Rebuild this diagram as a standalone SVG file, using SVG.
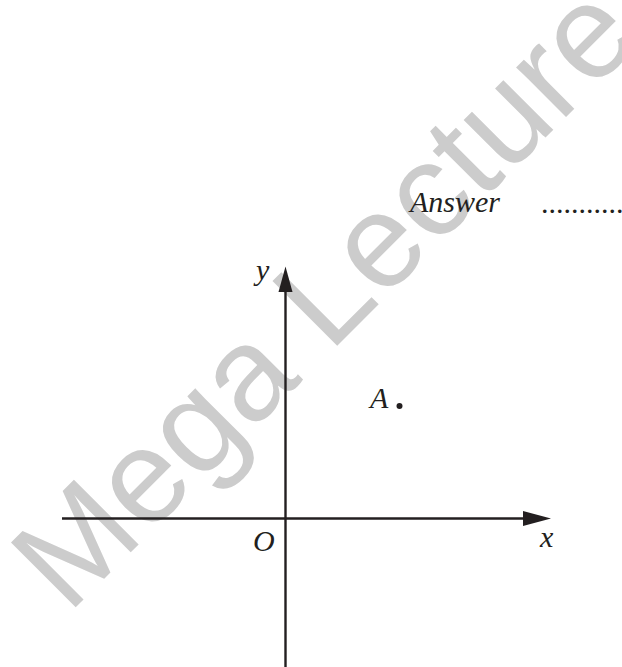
<svg xmlns="http://www.w3.org/2000/svg" width="622" height="667" viewBox="0 0 622 667">
  <style>
    .lbl { font-family: "Liberation Serif", "Times New Roman", serif; font-style: italic; font-size: 30px; fill: #231f20; }
    .axis { stroke: #231f20; stroke-width: 2.4; fill: none; }
    .head { fill: #231f20; }
    .wm { font-family: "Liberation Sans", Arial, sans-serif; font-size: 133px; fill: #cccccc; }
  </style>
  <rect width="622" height="667" fill="#ffffff"/>
  <g id="watermark">
    <text class="wm" transform="translate(68,615) rotate(-45)">Mega Lecture</text>
  </g>
  <g id="answer">
    <text class="lbl" x="410" y="212">Answer</text>
    <text class="lbl" x="541" y="213" style="font-style:normal">...........</text>
  </g>
  <g id="connectors">
    <line class="axis" x1="285.5" y1="290" x2="285.5" y2="667"/>
    <polygon class="head" points="285.5,266.5 278.5,292 292.5,292"/>
    <line class="axis" x1="62" y1="518.5" x2="525" y2="518.5"/>
    <polygon class="head" points="551,518.5 523,511 523,526"/>
  </g>
  <g id="label-y"><text class="lbl" x="256" y="280">y</text></g>
  <g id="label-x"><text class="lbl" x="540" y="547">x</text></g>
  <g id="label-O"><text class="lbl" x="253" y="551">O</text></g>
  <g id="point-A">
    <text class="lbl" x="370" y="408">A</text>
    <circle cx="399.5" cy="406" r="3" fill="#231f20"/>
  </g>
</svg>
